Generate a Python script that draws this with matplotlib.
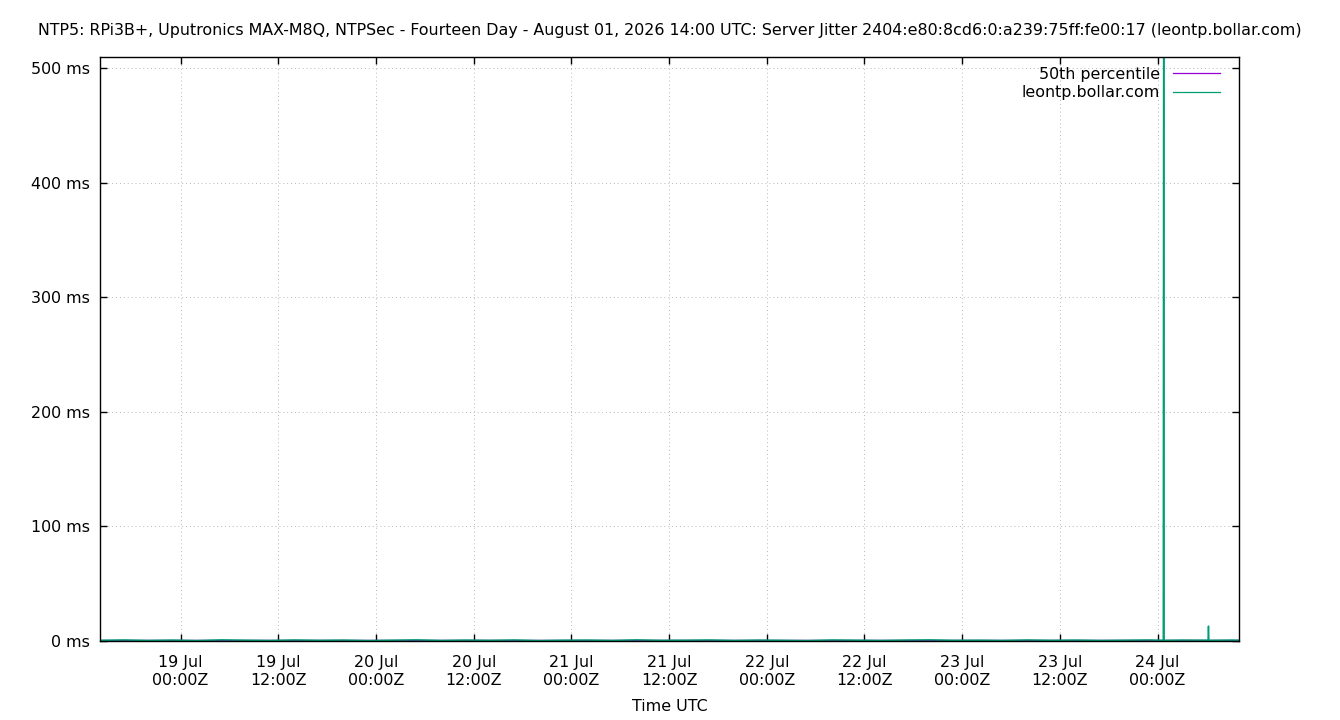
import matplotlib
matplotlib.use("Agg")
import matplotlib.pyplot as plt
import matplotlib.dates as mdates
import pandas as pd

title = ("NTP5: RPi3B+, Uputronics MAX-M8Q, NTPSec - Fourteen Day - August 01, 2026 14:00 UTC: "
         "Server Jitter 2404:e80:8cd6:0:a239:75ff:fe00:17 (leontp.bollar.com)")

# hours since 2026-07-18 00:00 UTC
jitter_hours = [14.1, 17, 20, 23, 26, 29, 32, 35, 38, 41, 44, 47, 50, 53, 56, 59, 62, 65,
                68, 71, 74, 77, 80, 83, 86, 89, 92, 95, 98, 101, 104, 107, 110, 113, 116,
                119, 122, 125, 128, 131, 134, 137, 140, 143, 144.70, 144.75, 144.80, 147,
                150.20, 150.25, 150.30, 153, 154]
jitter_ms = [0.6, 0.9, 0.5, 0.8, 0.4, 1.0, 0.7, 0.5, 0.9, 0.6, 0.8, 0.4, 0.7, 1.0, 0.5, 0.8,
             0.6, 0.9, 0.4, 0.7, 0.8, 0.5, 1.0, 0.6, 0.7, 0.9, 0.5, 0.8, 0.6, 0.4, 0.9, 0.7,
             0.5, 0.8, 1.0, 0.6, 0.7, 0.5, 0.9, 0.6, 0.8, 0.5, 0.7, 0.9, 0.6, 620.0, 0.6, 0.8,
             0.7, 13.0, 0.6, 0.8, 0.7]

pct_hours = [14.1, 154]
pct_ms = [0.5, 0.5]

y_ticks = [0, 100, 200, 300, 400, 500]
y_tick_labels = [f"{v} ms" for v in y_ticks]

base = pd.Timestamp("2026-07-18 00:00")
jt = [base + pd.Timedelta(hours=h) for h in jitter_hours]
pt = [base + pd.Timedelta(hours=h) for h in pct_hours]

FS = 11.4
plt.rcParams['font.family'] = ['DejaVu Sans']
fig = plt.figure(figsize=(13.4, 7.2), dpi=100)
ax = fig.add_axes([100/1340, 1 - 641/720, 1139/1340, 584/720])

ax.plot(pt, pct_ms, color='#9400D3', lw=1, label='50th percentile')
ax.plot(jt, jitter_ms, color='#009E73', lw=1.1, label='leontp.bollar.com')

ax.set_xlim(base + pd.Timedelta(hours=14.1), base + pd.Timedelta(hours=154))
ax.set_ylim(0, 510)
ax.set_yticks(y_ticks)
ax.set_yticklabels(y_tick_labels)
ax.xaxis.set_major_locator(mdates.HourLocator(byhour=[0, 12]))
ax.xaxis.set_major_formatter(mdates.DateFormatter("%d %b\n%H:%MZ"))

ax.grid(True, color='#b8b8b8', linestyle=(0, (1, 3)), linewidth=0.7)
ax.tick_params(direction='in', length=5, width=1, top=True, right=True,
               labelsize=FS, colors='black')
ax.tick_params(axis='x', pad=10)
ax.tick_params(axis='y', pad=7)
for s in ax.spines.values():
    s.set_linewidth(1)
for lbl in ax.get_xticklabels():
    lbl.set_horizontalalignment('center')
    lbl.set_linespacing(1.25)

ax.set_xlabel("Time UTC", fontsize=FS, labelpad=8)
fig.text(0.5, 1 - 30/720, title, ha='center', va='center', fontsize=FS)

leg = ax.legend(loc='upper right', bbox_to_anchor=(1 - 19/1139, 1 - 10/584), frameon=False,
                markerfirst=False, fontsize=FS, handlelength=3.0, handletextpad=0.8,
                labelspacing=0.2, borderpad=0, borderaxespad=0)
for line in leg.get_lines():
    line.set_linewidth(0.9)

fig.savefig("out.png", dpi=100)
